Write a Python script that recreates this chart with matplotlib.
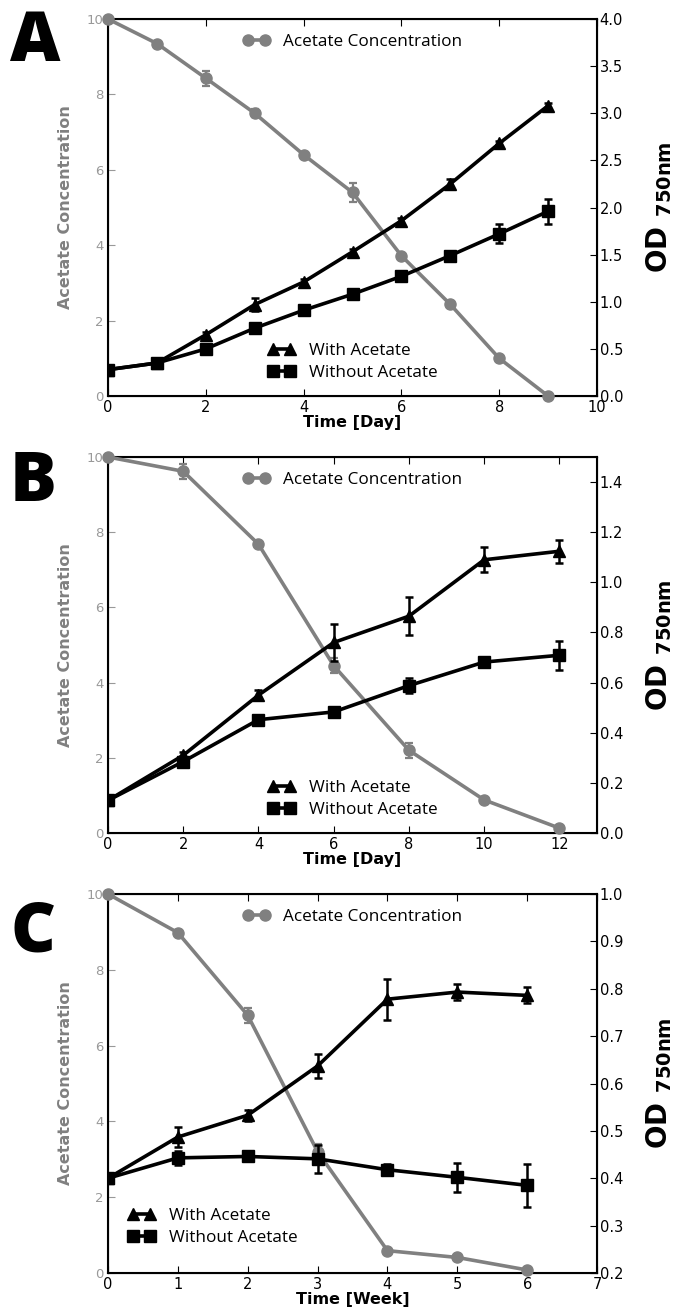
import matplotlib
matplotlib.use("Agg")
import matplotlib.pyplot as plt
from matplotlib.lines import Line2D

# ---------------- data ----------------
# Panel A (days)
a_time = [0, 1, 2, 3, 4, 5, 6, 7, 8, 9]
a_acetate = [10.0, 9.35, 8.43, 7.5, 6.4, 5.4, 3.72, 2.43, 1.0, 0.0]
a_acetate_err = [0, 0.05, 0.2, 0.1, 0.05, 0.25, 0.05, 0.05, 0.05, 0.05]
a_with = [0.28, 0.35, 0.65, 0.97, 1.21, 1.53, 1.86, 2.25, 2.68, 3.08]
a_with_err = [0.02, 0.02, 0.03, 0.07, 0.03, 0.03, 0.03, 0.05, 0.03, 0.03]
a_without = [0.28, 0.35, 0.50, 0.72, 0.91, 1.08, 1.27, 1.49, 1.72, 1.96]
a_without_err = [0.02, 0.02, 0.02, 0.03, 0.03, 0.03, 0.03, 0.03, 0.1, 0.13]

# Panel B (days)
b_time = [0, 2, 4, 6, 8, 10, 12]
b_acetate = [10.0, 9.62, 7.68, 4.45, 2.2, 0.88, 0.13]
b_acetate_err = [0, 0.2, 0.05, 0.2, 0.2, 0.05, 0.05]
b_with = [0.13, 0.31, 0.55, 0.76, 0.865, 1.09, 1.124]
b_with_err = [0.01, 0.015, 0.02, 0.073, 0.077, 0.05, 0.045]
b_without = [0.13, 0.285, 0.452, 0.483, 0.588, 0.682, 0.709]
b_without_err = [0.01, 0.015, 0.02, 0.015, 0.03, 0.02, 0.058]

# Panel C (weeks)
c_time = [0, 1, 2, 3, 4, 5, 6]
c_acetate = [10.0, 8.98, 6.8, 3.2, 0.59, 0.41, 0.08]
c_acetate_err = [0, 0.05, 0.2, 0.2, 0.05, 0.05, 0.05]
c_with = [0.40, 0.487, 0.533, 0.637, 0.778, 0.793, 0.786]
c_with_err = [0.005, 0.021, 0.012, 0.025, 0.043, 0.017, 0.017]
c_without = [0.40, 0.443, 0.446, 0.441, 0.418, 0.402, 0.385]
c_without_err = [0.005, 0.014, 0.005, 0.03, 0.012, 0.03, 0.046]

panels = [
    dict(letter="A", t=a_time, ac=a_acetate, ace=a_acetate_err, w=a_with, we=a_with_err,
         wo=a_without, woe=a_without_err, xlim=(0, 10), xticks=[0, 2, 4, 6, 8, 10],
         rlim=(0, 4.0), rticks=[0.0, 0.5, 1.0, 1.5, 2.0, 2.5, 3.0, 3.5, 4.0],
         xlabel="Time [Day]", leg_loc="lower center", leg_anchor=(0.5, 0.0), letter_y=8),
    dict(letter="B", t=b_time, ac=b_acetate, ace=b_acetate_err, w=b_with, we=b_with_err,
         wo=b_without, woe=b_without_err, xlim=(0, 13), xticks=[0, 2, 4, 6, 8, 10, 12],
         rlim=(0, 1.5), rticks=[0.0, 0.2, 0.4, 0.6, 0.8, 1.0, 1.2, 1.4],
         xlabel="Time [Day]", leg_loc="lower center", leg_anchor=(0.5, 0.0), letter_y=448),
    dict(letter="C", t=c_time, ac=c_acetate, ace=c_acetate_err, w=c_with, we=c_with_err,
         wo=c_without, woe=c_without_err, xlim=(0, 7), xticks=[0, 1, 2, 3, 4, 5, 6, 7],
         rlim=(0.2, 1.0), rticks=[0.2, 0.3, 0.4, 0.5, 0.6, 0.7, 0.8, 0.9, 1.0],
         xlabel="Time [Week]", leg_loc="lower left", leg_anchor=(0.01, 0.03), letter_y=898),
]

W, H = 684, 1309
fig = plt.figure(figsize=(W / 100, H / 100), dpi=100)

GRAY = "#808080"
TICKGRAY = "#999999"
boxes = [(19, 396), (457, 833), (894, 1273)]
left_px, right_px = 108, 597
LEGFONT = {"family": "Open Sans", "size": 12.3}

for p, (top, bot) in zip(panels, boxes):
    rect = [left_px / W, 1 - bot / H, (right_px - left_px) / W, (bot - top) / H]
    ax = fig.add_axes(rect)
    ax2 = ax.twinx()
    ax.set_zorder(ax2.get_zorder() + 1)
    ax.patch.set_visible(False)

    ax.errorbar(p["t"], p["ac"], yerr=p["ace"], color=GRAY, marker="o", ms=8, lw=2.6,
                elinewidth=1.6, capsize=3, capthick=1.6, zorder=3, clip_on=False)
    ax.set_xlim(*p["xlim"])
    ax.set_ylim(0, 10)
    ax.set_xticks(p["xticks"])
    ax.set_yticks([0, 2, 4, 6, 8, 10])
    ax.tick_params(axis="y", direction="in", colors=TICKGRAY, labelcolor=TICKGRAY,
                   labelsize=9.5, length=5, pad=3)
    ax.tick_params(axis="x", direction="in", labelsize=10.5, length=5, top=True, pad=3)
    ax.set_ylabel("Acetate Concentration", color=GRAY, fontsize=11.5, fontweight="bold",
                  labelpad=10)
    ax.set_xlabel(p["xlabel"], fontsize=11.5, fontweight="bold", labelpad=0)
    for s in ax.spines.values():
        s.set_linewidth(1.5)

    ax2.set_ylim(*p["rlim"])
    ax2.set_yticks(p["rticks"])
    ax2.set_yticklabels(["{:.1f}".format(v) for v in p["rticks"]])
    ax2.tick_params(axis="y", direction="in", labelsize=10.5, length=5, pad=2)
    ax2.set_ylabel(r"OD $_{\mathbf{750nm}}$", fontsize=20, fontweight="bold", labelpad=15)

    # OD series drawn on the front axes, mapped from the right-axis scale
    r0, r1 = p["rlim"]
    to_left = lambda v: [(x - r0) / (r1 - r0) * 10 for x in v]
    err_left = lambda e: [x / (r1 - r0) * 10 for x in e]
    ax.errorbar(p["t"], to_left(p["w"]), yerr=err_left(p["we"]), color="black",
                marker="^", ms=8, lw=2.6, elinewidth=1.8, capsize=3, capthick=1.8, zorder=4)
    ax.errorbar(p["t"], to_left(p["wo"]), yerr=err_left(p["woe"]), color="black",
                marker="s", ms=8, lw=2.6, elinewidth=1.8, capsize=3, capthick=1.8, zorder=4)

    h_ac = Line2D([], [], color=GRAY, marker="o", ms=8, lw=2.6)
    h_w = Line2D([], [], color="black", marker="^", ms=8, lw=2.6)
    h_wo = Line2D([], [], color="black", marker="s", ms=8, lw=2.6)
    leg1 = ax.legend([h_ac], ["Acetate Concentration"], loc="upper center", frameon=False,
                     numpoints=2, prop=LEGFONT, handlelength=1.6, bbox_to_anchor=(0.5, 1.0))
    ax.add_artist(leg1)
    ax.legend([h_w, h_wo], ["With Acetate", "Without Acetate"], loc=p["leg_loc"],
              frameon=False, numpoints=2, prop=LEGFONT, handlelength=1.6,
              labelspacing=0.35, bbox_to_anchor=p["leg_anchor"])

    fig.text(10 / W, 1 - p["letter_y"] / H, p["letter"], fontsize=50, fontweight="heavy",
             family="Open Sans", va="top", ha="left")

fig.savefig("out.png", dpi=100)
